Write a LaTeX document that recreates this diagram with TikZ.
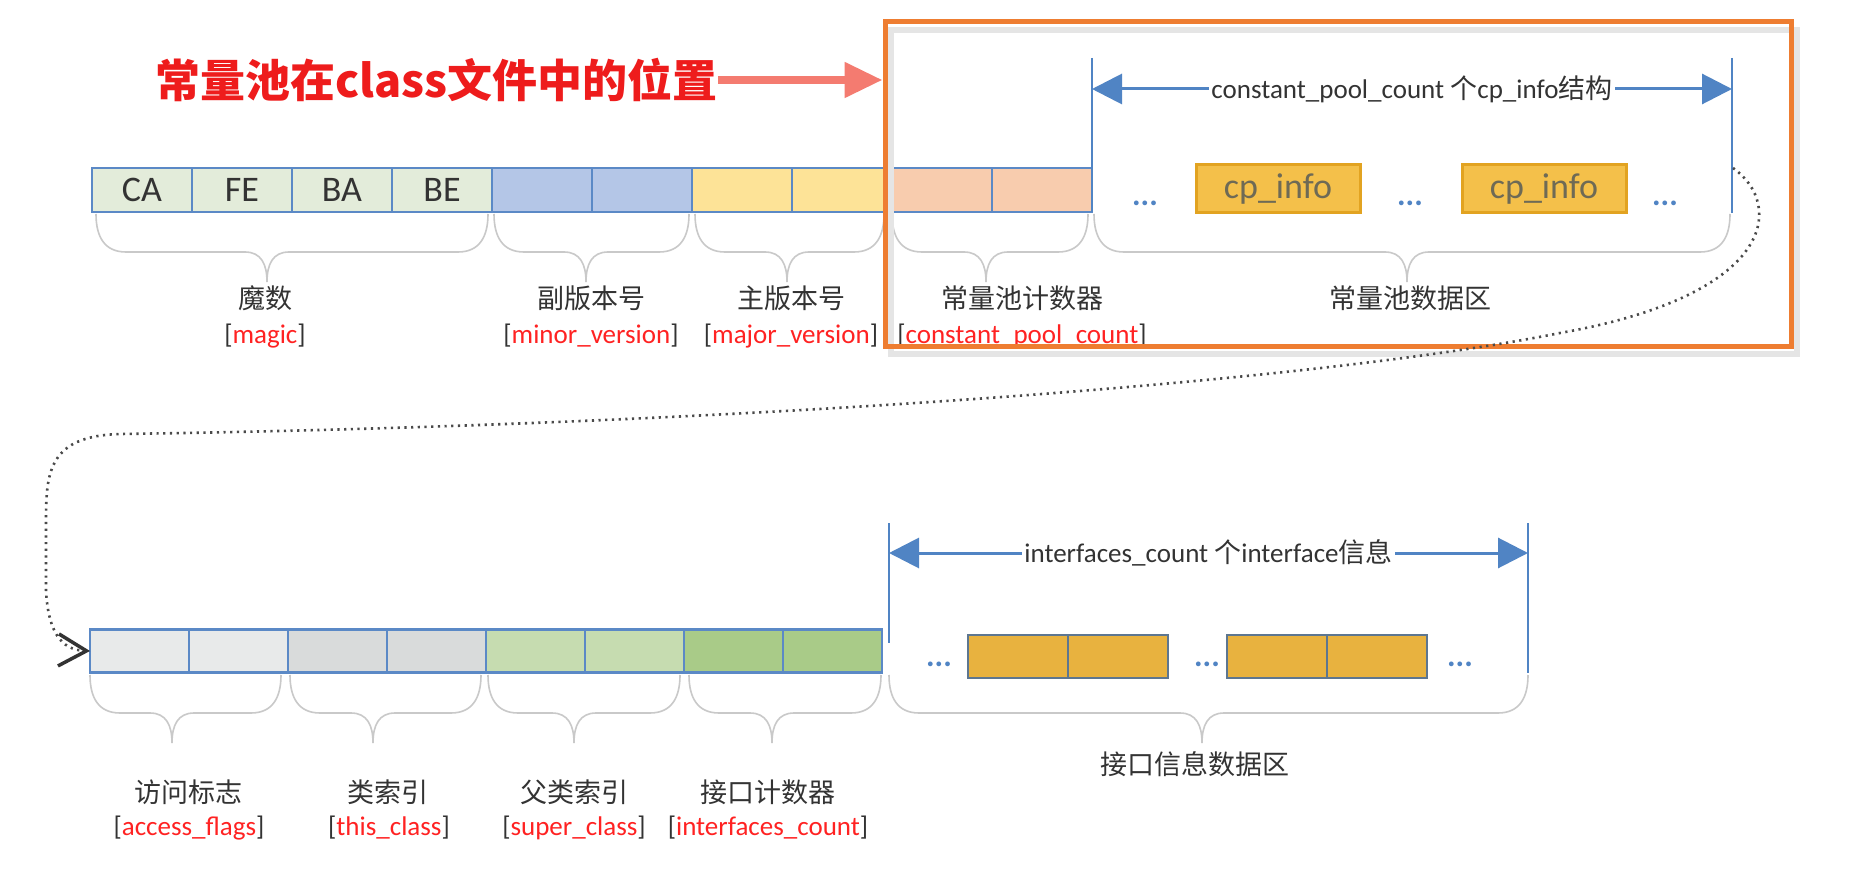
\documentclass[tikz,border=0pt]{standalone}
\usepackage{fontspec}
\setmainfont{Carlito}
\newfontfamily\cjk{Noto Sans CJK SC}
\usetikzlibrary{arrows.meta,positioning}
\definecolor{cellblue}{HTML}{5B89C6}
\definecolor{magicfill}{HTML}{E3ECDA}
\definecolor{minorfill}{HTML}{B4C6E7}
\definecolor{majorfill}{HTML}{FDE397}
\definecolor{cpcfill}{HTML}{F8CCAE}
\definecolor{accfill}{HTML}{E8EAEA}
\definecolor{thisfill}{HTML}{D9DBDB}
\definecolor{superfill}{HTML}{C6DCB0}
\definecolor{ifcfill}{HTML}{A9CB88}
\definecolor{infofill}{HTML}{F4C04A}
\definecolor{infoline}{HTML}{E2A321}
\definecolor{infotext}{HTML}{6E6A55}
\definecolor{iffill}{HTML}{E8B23F}
\definecolor{ifline}{HTML}{5D7690}
\definecolor{dimblue}{HTML}{5084C4}
\definecolor{poolorange}{HTML}{EE7D31}
\definecolor{titlered}{HTML}{EE1C1C}
\definecolor{arrowsalmon}{HTML}{F47B70}
\definecolor{keyred}{HTML}{FF2222}
\definecolor{bracegray}{HTML}{C9C9C9}
\definecolor{textgray}{HTML}{333333}
\definecolor{dotgray}{HTML}{4A4A4A}
\newcommand{\fieldname}[1]{[\textcolor{keyred}{#1}]}
\tikzset{
  cell/.style={
    draw = cellblue,
    line width = 2.5pt,
    minimum width = 100pt,
    minimum height = 44pt,
    inner sep = 0pt,
    outer sep = 0pt,
    font = \fontsize{36}{40}\selectfont,
    text = textgray
  },
  bcell/.style={
    cell,
    minimum width = 99pt,
    minimum height = 43pt
  },
  cpinfo/.style={
    draw = infoline,
    fill = infofill,
    line width = 3pt,
    minimum width = 164pt,
    minimum height = 48pt,
    inner sep = 0pt,
    font = \fontsize{36}{40}\selectfont,
    text = infotext
  },
  ifcell/.style={
    draw = ifline,
    fill = iffill,
    line width = 2.5pt,
    minimum width = 100pt,
    minimum height = 43pt,
    inner sep = 0pt,
    outer sep = 0pt
  },
  dots/.style={
    text = dimblue,
    inner sep = 0pt,
    font = \bfseries\fontsize{32}{32}\selectfont
  },
}
\tikzset{
  namelabel/.style={
    font = \cjk\fontsize{27}{30}\selectfont,
    text = textgray,
    inner sep = 1pt
  },
  keylabel/.style={
    font = \fontsize{27}{30}\selectfont,
    text = textgray,
    inner sep = 1pt
  },
  dimlabel/.style={
    fill = white,
    font = \fontsize{27}{30}\selectfont,
    text = textgray,
    inner sep = 2pt
  },
  dimline/.style={
    draw = dimblue,
    line width = 2pt
  },
  dimarrow/.style={
    draw = dimblue,
    line width = 3pt,
    {Triangle[length=30pt,width=30pt]}-{Triangle[length=30pt,width=30pt]}
  },
  bracegray/.style={
    draw = bracegray,
    line width = 1.6pt
  },
  pics/curly/.style n args={3}{code={
    \draw[bracegray] (#1,0) .. controls (#1,22) and (#1+8,38) .. (#1+30,38)
      -- (#3-22,38) .. controls (#3-6,38) and (#3,50) .. (#3,68)
      .. controls (#3,50) and (#3+6,38) .. (#3+22,38)
      -- (#2-30,38) .. controls (#2-8,38) and (#2,22) .. (#2,0);
  }},
  dotlink/.style={
    draw = dotgray,
    line width = 2.6pt,
    dash pattern = on 2.2pt off 4.5pt,
    -{Straight Barb[length=28pt,width=32pt,line width=3.5pt,color=textgray]}
  },
}

\begin{document}
\begin{tikzpicture}[x=1pt,y=-1pt]
  \fill[white] (0,0) rectangle (1852,882);
  \useasboundingbox (0,0) rectangle (1852,882);

  % title and arrow
  \node[anchor=east, inner sep=0pt, text=titlered,
        font=\cjk\bfseries\fontsize{45}{50}\selectfont] (title) at (718,80) {常量池在class文件中的位置};

  % top row
  \node[cell, fill=magicfill] (magic1) at (142,190) {CA};
  \node[cell, fill=magicfill, right=0pt of magic1] (magic2) {FE};
  \node[cell, fill=magicfill, right=0pt of magic2] (magic3) {BA};
  \node[cell, fill=magicfill, right=0pt of magic3] (magic4) {BE};
  \node[cell, fill=minorfill, right=0pt of magic4] (minor1) {};
  \node[cell, fill=minorfill, right=0pt of minor1] (minor2) {};
  \node[cell, fill=majorfill, right=0pt of minor2] (major1) {};
  \node[cell, fill=majorfill, right=0pt of major1] (major2) {};
  \node[cell, fill=cpcfill, right=0pt of major2] (cpc1) {};
  \node[cell, fill=cpcfill, right=0pt of cpc1] (cpc2) {};

  % constant pool data
  \coordinate (cpL) at (1092,58);
  \coordinate (cpR) at (1732,58);
  \coordinate (cpRb) at (1732,213);
  \coordinate (cpA) at (1092,89);
  \coordinate (cpB) at (1732,89);
  \coordinate (cpTick) at (1733,168);
  \draw[dimline] (cpL) -- (cpc2.south east);
  \draw[dimline] (cpR) -- (cpRb);
  \draw[dimarrow] (cpA) -- (cpB) node[midway, dimlabel] (cplabel) {constant\_pool\_count {\cjk 个}cp\_info{\cjk 结构}};
  \node[cpinfo] (info1) at (1278,189) {cp\_info};
  \node[cpinfo] (info2) at (1544,189) {cp\_info};
  \node[dots] (cpdots1) at (1145,203) {...};
  \node[dots] (cpdots2) at (1410,203) {...};
  \node[dots] (cpdots3) at (1665,203) {...};

  % top braces and labels
  \pic at (0,214) {curly={96}{488}{267}};
  \pic at (0,214) {curly={494}{689}{586}};
  \pic at (0,214) {curly={695}{884}{787}};
  \pic at (0,214) {curly={892}{1088}{986}};
  \pic at (0,214) {curly={1094}{1730}{1407}};
  \node[namelabel] (lmagic) at (265,298) {魔数};
  \node[namelabel] (lminor) at (591,298) {副版本号};
  \node[namelabel] (lmajor) at (791,298) {主版本号};
  \node[namelabel] (lcpc) at (1022,298) {常量池计数器};
  \node[namelabel] (lcpdata) at (1410,298) {常量池数据区};
  \node[keylabel] (kmagic) at (265,336) {\fieldname{magic}};
  \node[keylabel] (kminor) at (591,336) {\fieldname{minor\_version}};
  \node[keylabel] (kmajor) at (791,336) {\fieldname{major\_version}};
  \node[keylabel] (kcpc) at (1022,336) {\fieldname{constant\_pool\_count}};

  % pool frame with its soft shadow
  \draw[black!10, line width=6pt] (891,30) rectangle (1797,354);
  \node[draw=poolorange, line width=5pt, minimum width=906pt, minimum height=325pt,
        inner sep=0pt] (pool) at (1338,184.5) {};
  \draw[arrowsalmon, line width=8pt, -{Triangle[length=38pt,width=34pt]}] (title) -- (title -| pool.west);

  % bottom row
  \node[bcell, fill=accfill] (acc1) at (139.5,651) {};
  \node[bcell, fill=accfill, right=0pt of acc1] (acc2) {};
  \node[bcell, fill=thisfill, right=0pt of acc2] (this1) {};
  \node[bcell, fill=thisfill, right=0pt of this1] (this2) {};
  \node[bcell, fill=superfill, right=0pt of this2] (super1) {};
  \node[bcell, fill=superfill, right=0pt of super1] (super2) {};
  \node[bcell, fill=ifcfill, right=0pt of super2] (ifc1) {};
  \node[bcell, fill=ifcfill, right=0pt of ifc1] (ifc2) {};

  % interfaces data
  \coordinate (ifL) at (889,523);
  \coordinate (ifLb) at (889,643);
  \coordinate (ifR) at (1528,523);
  \coordinate (ifRb) at (1528,673);
  \coordinate (ifA) at (889,553);
  \coordinate (ifB) at (1528,553);
  \draw[dimline] (ifL) -- (ifLb);
  \draw[dimline] (ifR) -- (ifRb);
  \draw[dimarrow] (ifA) -- (ifB) node[midway, dimlabel] (iflabel) {interfaces\_count {\cjk 个}interface{\cjk 信息}};
  \node[ifcell] (ifa1) at (1018,656.5) {};
  \node[ifcell, right=0pt of ifa1] (ifa2) {};
  \node[ifcell] (ifb1) at (1277,656.5) {};
  \node[ifcell, right=0pt of ifb1] (ifb2) {};
  \node[dots] (ifdots1) at (939,664) {...};
  \node[dots] (ifdots2) at (1207,664) {...};
  \node[dots] (ifdots3) at (1460,664) {...};

  % bottom braces and labels
  \pic at (0,675) {curly={90}{281}{172}};
  \pic at (0,675) {curly={290}{481}{373}};
  \pic at (0,675) {curly={488}{680}{574}};
  \pic at (0,675) {curly={689}{881}{772}};
  \pic at (0,675) {curly={889}{1528}{1202}};
  \node[namelabel] (lacc) at (188,792) {访问标志};
  \node[namelabel] (lthis) at (388,792) {类索引};
  \node[namelabel] (lsuper) at (574,792) {父类索引};
  \node[namelabel] (lifc) at (768,792) {接口计数器};
  \node[namelabel] (lifdata) at (1195,764) {接口信息数据区};
  \node[keylabel] (kacc) at (189,828) {\fieldname{access\_flags}};
  \node[keylabel] (kthis) at (389,828) {\fieldname{this\_class}};
  \node[keylabel] (ksuper) at (574,828) {\fieldname{super\_class}};
  \node[keylabel] (kifc) at (768,828) {\fieldname{interfaces\_count}};

  % dotted link from the first row to the second
  \draw[dotlink] (cpTick) .. controls (1785,205) and (1775,295) .. (1560,333)
    .. controls (1300,385) and (700,426) .. (120,434)
    .. controls (50,436) and (46,470) .. (46,520)
    -- (46,590) .. controls (48,630) and (60,650) .. (acc1.west);
\end{tikzpicture}
\end{document}
